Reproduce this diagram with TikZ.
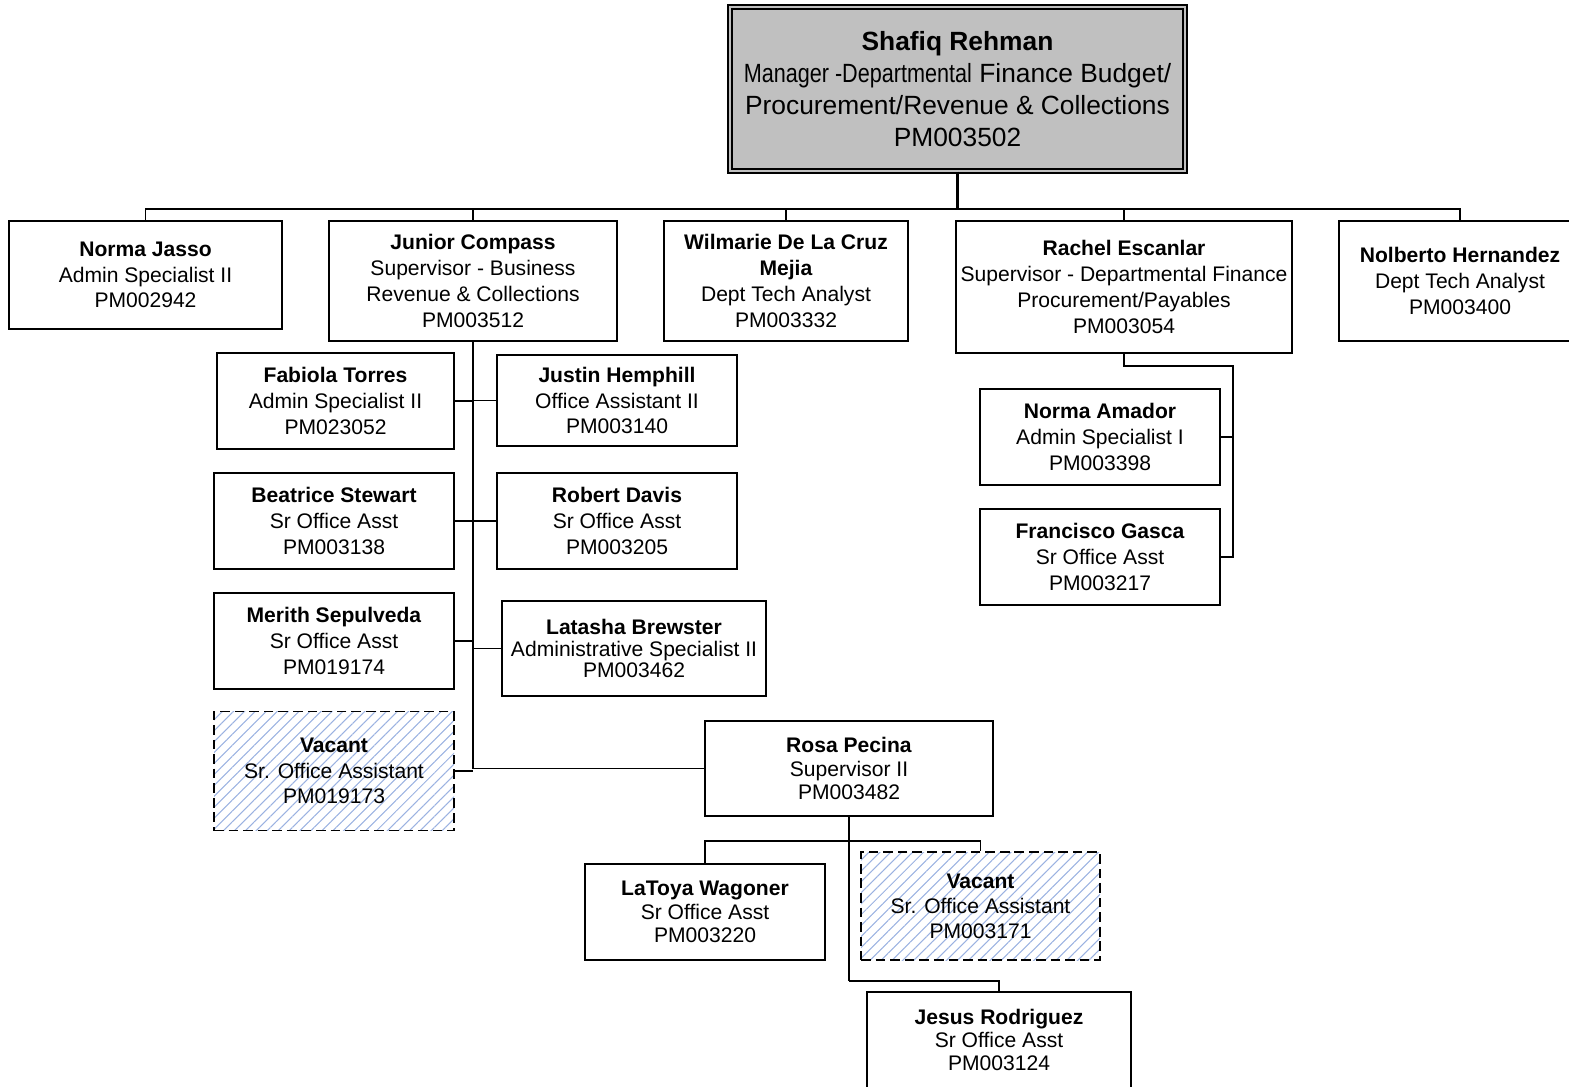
\documentclass[tikz,border=0pt]{standalone}
\usepackage{fontspec}
\usepackage{graphicx}
\setmainfont{Liberation Sans}
\usetikzlibrary{calc}
\usetikzlibrary{patterns.meta}

\definecolor{bossgray}{RGB}{192,192,192}
\definecolor{hatchblue}{RGB}{155,178,225}
\newcommand{\pu}{0.02cm}

\tikzset{
  person/.style={draw, line width=0.85pt, rectangle, inner sep=0pt, align=center,
    font=\fontsize{12}{14.7}\selectfont},
  vacant/.style={person, dash pattern=on 5.5pt off 2.8pt,
    pattern={Lines[angle=45,distance=4.4pt,line width=0.6pt]}, pattern color=hatchblue},
  boss/.style={draw, fill=bossgray, line width=0.85pt, double=bossgray, double distance=1.2pt,
    rectangle, inner sep=0pt, align=center, font=\fontsize{15}{18.1}\selectfont},
  wh/.style 2 args={minimum width=#1*\pu, minimum height=#2*\pu},
  orgline/.style={line width=1.1pt},
  trunk/.style={line width=1.6pt}
}

\begin{document}
\begin{tikzpicture}[x=0.02cm,y=-0.02cm]
\useasboundingbox (0,0) rectangle (1569,1087);
\clip (0,0) rectangle (1569,1087);

% manager
\node[boss, wh={455}{164}] (rehman) at (957.5,89)
  {\textbf{Shafiq Rehman}\\\scalebox{0.82}[1]{Manager -Departmental} Finance Budget/\\Procurement/Revenue \& Collections\\PM003502};

% first row
\node[person, wh={273}{108}] (jasso) at (145.5,275) {\textbf{Norma Jasso}\\Admin Specialist II\\PM002942};
\node[person, wh={288}{120}] (compass) at (473,281) {\textbf{Junior Compass}\\Supervisor - Business\\Revenue \& Collections\\PM003512};
\node[person, wh={244}{120}] (wilmarie) at (786,281) {\textbf{Wilmarie De La Cruz}\\\textbf{Mejia}\\Dept Tech Analyst\\PM003332};
\node[person, wh={336}{132}] (rachel) at (1124,287) {\textbf{Rachel Escanlar}\\Supervisor - Departmental Finance\\Procurement/Payables\\PM003054};
\node[person, wh={242}{120}] (nolberto) at (1460,281) {\textbf{Nolberto Hernandez}\\Dept Tech Analyst\\PM003400};

% under Junior Compass
\node[person, wh={237}{96}] (fabiola) at (335.5,401) {\textbf{Fabiola Torres}\\Admin Specialist II\\PM023052};
\node[person, wh={240}{91}] (justin) at (617,400.5) {\textbf{Justin Hemphill}\\Office Assistant II\\PM003140};
\node[person, wh={240}{96}] (beatrice) at (334,521) {\textbf{Beatrice Stewart}\\Sr Office Asst\\PM003138};
\node[person, wh={240}{96}] (robert) at (617,521) {\textbf{Robert Davis}\\Sr Office Asst\\PM003205};
\node[person, wh={240}{96}] (merith) at (334,641) {\textbf{Merith Sepulveda}\\Sr Office Asst\\PM019174};
\node[person, wh={264}{95}, font=\fontsize{12}{12.5}\selectfont] (latasha) at (634,648.5) {\textbf{Latasha Brewster}\\Administrative Specialist II\\PM003462};
\node[vacant, wh={240}{119}] (vacanta) at (334,771) {\textbf{Vacant}\\Sr. Office Assistant\\PM019173};
\node[person, wh={288}{95}, font=\fontsize{12}{13.6}\selectfont] (rosa) at (849,768.5) {\textbf{Rosa Pecina}\\Supervisor II\\PM003482};

% under Rosa Pecina
\node[person, wh={240}{96}, font=\fontsize{12}{13.3}\selectfont] (latoya) at (705,912) {\textbf{LaToya Wagoner}\\Sr Office Asst\\PM003220};
\node[vacant, wh={239}{108}, font=\fontsize{12}{14.2}\selectfont] (vacantb) at (980.5,906) {\textbf{Vacant}\\Sr. Office Assistant\\PM003171};
\node[person, wh={264}{96}, font=\fontsize{12}{13}\selectfont] (jesus) at (999,1040) {\textbf{Jesus Rodriguez}\\Sr Office Asst\\PM003124};

% under Rachel Escanlar
\node[person, wh={240}{96}] (amador) at (1100,437) {\textbf{Norma Amador}\\Admin Specialist I\\PM003398};
\node[person, wh={240}{96}] (gasca) at (1100,557) {\textbf{Francisco Gasca}\\Sr Office Asst\\PM003217};

% connectors
\coordinate (bus) at (957.5,209);
\draw[trunk] (rehman.south) -- (bus);
\draw[orgline] (jasso.north) |- (bus) -| (nolberto.north);
\foreach \n in {compass,wilmarie,rachel}
  \draw[orgline] (\n.north) -- (\n.north |- bus);

\draw[trunk] (compass.south) -- (compass.south |- rosa.west) coordinate (compassb);
\draw[orgline] (compassb) -- (rosa.west);
\foreach \n in {fabiola,beatrice,merith,vacanta}
  \draw[orgline] (\n.east) -- (\n.east -| compass.south);
\foreach \n in {justin,robert,latasha}
  \draw[orgline] (\n.west) -- (\n.west -| compass.south);

\draw[trunk] (rosa.south) -- ++(0,24) coordinate (rosab);
\draw[orgline] (rosab) -| (latoya.north);
\draw[orgline] (rosab) -| (vacantb.north);
\draw[trunk] (rosab) -- ++(0,140) coordinate (rosac);
\draw[orgline] (rosac) -| (jesus.north);

\draw[orgline] (rachel.south) -- ++(0,12) -| ($(gasca.east)+(12,0)$) -- (gasca.east);
\draw[orgline] (amador.east) -- ++(12,0);
\end{tikzpicture}
\end{document}
